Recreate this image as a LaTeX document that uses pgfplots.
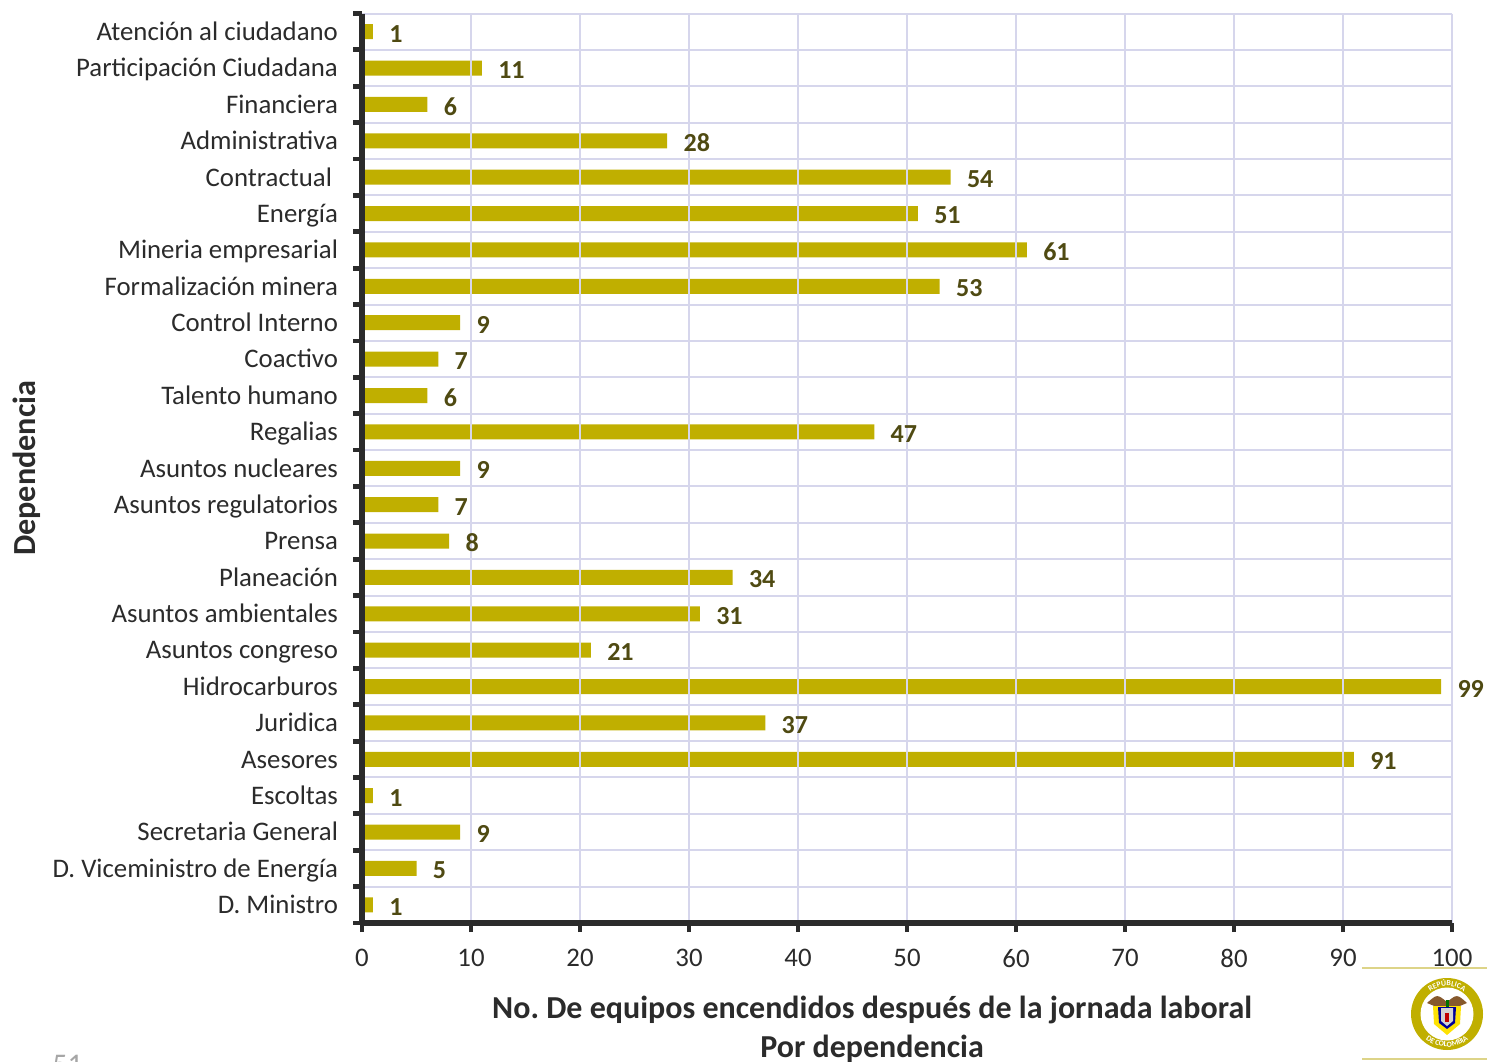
\documentclass[border=0pt]{standalone}
\usepackage{fontspec}
\setmainfont{Carlito}
\usepackage{pgfplots}
\usepackage{pgfplotstable}
\pgfplotsset{compat=1.18}
\usetikzlibrary{decorations.text}
\frenchspacing
\definecolor{barc}{HTML}{C0AF00}
\definecolor{gridc}{HTML}{D6D6EC}
\definecolor{txt}{HTML}{2B2B2B}
\definecolor{vals}{HTML}{4F4A12}
\definecolor{linec}{HTML}{DDD488}
\pgfplotstableread{
pos val
0 1
1 11
2 6
3 28
4 54
5 51
6 61
7 53
8 9
9 7
10 6
11 47
12 9
13 7
14 8
15 34
16 31
17 21
18 99
19 37
20 91
21 1
22 9
23 5
24 1
}\datatab
\begin{document}
\begin{tikzpicture}
\path[use as bounding box] (0pt,0pt) rectangle (743.5pt,530.5pt);
\begin{axis}[
  at={(181pt,69pt)},anchor=south west,
  scale only axis,width=545pt,height=454.75pt,
  xmin=0,xmax=100,ymin=-0.5,ymax=24.5,
  y dir=reverse,
  axis lines*=left,
  axis line style={-,draw=txt,line width=2.6pt},
  xtick={0,10,...,100},
  ytick={0,...,24},
  minor ytick={-0.5,0.5,...,24.5},
  yticklabels={Atención al ciudadano,Participación Ciudadana,Financiera,Administrativa,Contractual\hspace*{3pt}\null,Energía,Mineria empresarial,Formalización minera,Control Interno,Coactivo,Talento humano,Regalias,Asuntos nucleares,Asuntos regulatorios,Prensa,Planeación,Asuntos ambientales,Asuntos congreso,Hidrocarburos,Juridica,Asesores,Escoltas,Secretaria General,D. Viceministro de Energía,D. Ministro},
  xmajorgrids,yminorgrids,
  major grid style={draw=gridc,line width=1pt},
  minor grid style={draw=gridc,line width=1pt},
  major y tick style={draw=none},
  minor y tick style={draw=txt,line width=2.4pt},
  major x tick style={draw=txt,line width=2.4pt},
  tick align=outside,
  major tick length=4.5pt,minor tick length=4.5pt,
  tick label style={font=\fontsize{13.4}{15}\selectfont,text=txt},
  /pgf/number format/assume math mode=true,
  xticklabel style={yshift=-5pt},
  yticklabel style={xshift=-4pt,yshift=-1.4pt,text height=8.8pt,text depth=2.8pt},
  ylabel={\textbf{Dependencia}},
  ylabel style={at={(axis description cs:-0.3075,0.5)},anchor=center,font=\fontsize{16.1}{18}\selectfont,text=txt},
  xlabel={\textbf{No. De equipos encendidos después de la jornada laboral}\\\textbf{Por dependencia}},
  xlabel style={at={(axis description cs:0.468,-0.1167)},anchor=center,align=center,font=\fontsize{16}{19.5}\selectfont,text=txt},
  xbar,bar width=7.5pt,bar shift=0pt,
  nodes near coords,
  every node near coord/.append style={font=\fontsize{13}{15}\bfseries\selectfont,text=vals,inner sep=0pt,xshift=8pt,yshift=-1pt,
    /pgf/number format/assume math mode=true},
  axis on top,
  clip=false,
]
\addplot[draw=none,fill=barc] table[x=val,y=pos]{\datatab};
\end{axis}
\begin{scope}[x=0.5pt,y=0.5pt]
\draw[linec,line width=0.8pt] (1362,93)--(1487,93);
\draw[linec,line width=0.8pt] (1362,2)--(1487,2);
\node[anchor=base west,inner sep=0pt,text=gray!70,font=\fontsize{15}{18}\selectfont] at (52,-13) {51};
\begin{scope}[shift={(1447,47)}]
\fill[barc] (0,0) circle (36);
\fill[white] (0,0) circle (26.5);
\path[decorate,decoration={text along path,text align=center,text={|\fontsize{3.9}{4}\bfseries\selectfont\color{white}|REPÚBLICA}}] (150:28) arc (150:30:28);
\path[decorate,decoration={text along path,text align=center,text={|\fontsize{3.9}{4}\bfseries\selectfont\color{white}|DE COLOMBIA}}] (212:33) arc (212:328:33);
\fill[brown!70!black] (-20,11)..controls (-10,20)..(0,12)..controls (10,20)..(20,11)--(8,6)--(-8,6)--cycle;
\fill[yellow!85!orange] (-14,8)--(14,8)--(13,-10)--(0,-21)--(-13,-10)--cycle;
\fill[blue!60!black] (-9,7)--(9,7)--(8,-9)--(0,-15)--(-8,-9)--cycle;
\fill[gray!35] (-6,6)--(6,6)--(6,-7)--(0,-12)--(-6,-7)--cycle;
\fill[red!75!black] (-2,1)--(2,1)--(2,-8)--(-2,-8)--cycle;
\fill[green!45!black] (-1.5,7) rectangle (1.5,14);
\end{scope}
\end{scope}
\end{tikzpicture}
\end{document}
